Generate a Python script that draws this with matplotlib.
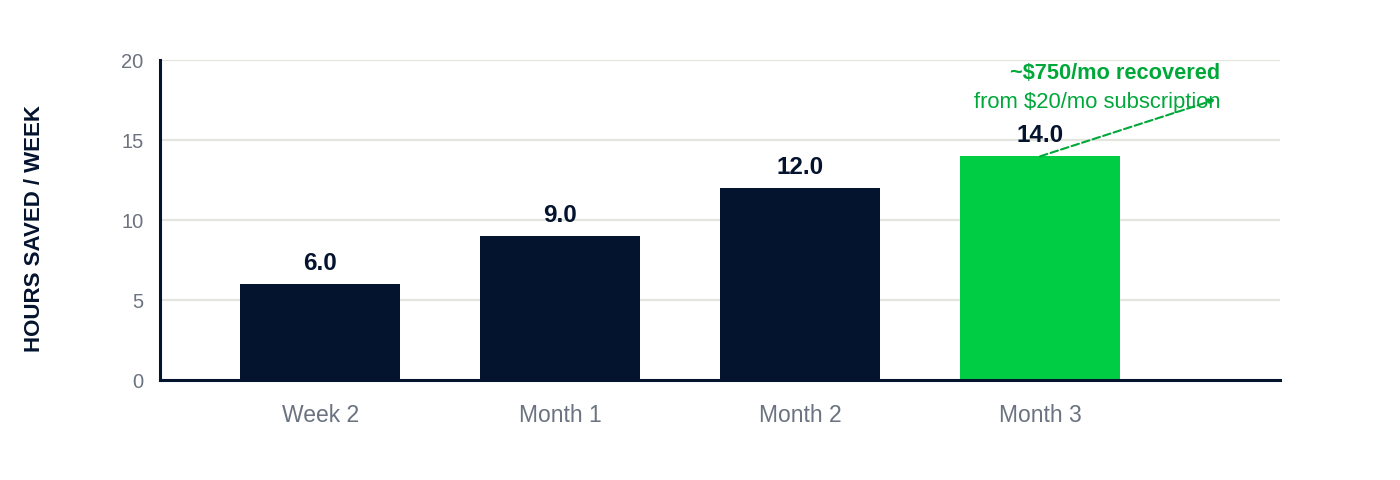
import matplotlib
matplotlib.use("Agg")
import matplotlib.pyplot as plt

# ── Data ──────────────────────────────────
periods = ["Week 2", "Month 1", "Month 2", "Month 3"]
hours_saved = [6.0, 9.0, 12.0, 14.0]
y_ticks = [0, 5, 10, 15, 20]
note_title = "~$750/mo recovered"
note_sub = "from $20/mo subscription"

# ── Colors ────────────────────────────────
NAVY = "#04132e"
GREEN = "#00cc44"
NOTE_GREEN = "#00a83a"
GRID = "#e4e4de"
TICK = "#6b7280"

plt.rcParams["font.family"] = ["Liberation Sans", "DejaVu Sans"]

fig = plt.figure(figsize=(14, 4.8), dpi=100, facecolor="white")
ax = fig.add_axes([0.1143, 0.2083, 0.8, 0.6667])

colors = [NAVY] * (len(periods) - 1) + [GREEN]
x = list(range(len(periods)))
bars = ax.bar(x, hours_saved, width=0.667, color=colors, zorder=3)

for xi, v in zip(x, hours_saved):
    ax.annotate(f"{v:.1f}", xy=(xi, v), xytext=(0, 6.5), textcoords="offset points",
                ha="center", va="bottom", fontsize=17.5, fontweight="bold", color=NAVY)

ax.set_xlim(-0.667, 4.0)
ax.set_ylim(0, 20.03)
ax.set_xticks(x)
ax.set_xticklabels(periods)
ax.set_yticks(y_ticks)
ax.tick_params(axis="x", length=0, pad=17, labelsize=16.5, labelcolor=TICK)
ax.tick_params(axis="y", length=0, pad=12, labelsize=14.5, labelcolor=TICK)

ax.grid(axis="y", color=GRID, linewidth=1.6, zorder=0)
for s in ["top", "right"]:
    ax.spines[s].set_visible(False)
for s in ["left", "bottom"]:
    ax.spines[s].set_color(NAVY)
    ax.spines[s].set_linewidth(2.2)
    ax.spines[s].set_zorder(4)

fig.text(0.0243, 0.523, "HOURS SAVED / WEEK", rotation=90, ha="center", va="center",
         fontsize=16, fontweight="bold", color=NAVY)

# annotation for the last bar
ax.text(3.75, 19.2, note_title, ha="right", va="center", fontsize=15.7,
        fontweight="bold", color=NOTE_GREEN)
ax.text(3.75, 17.4, note_sub, ha="right", va="center", fontsize=15.8, color=NOTE_GREEN)
ax.annotate("", xy=(3.73, 17.55), xytext=(3, hours_saved[-1]),
            arrowprops=dict(arrowstyle="-|>", linestyle="--", color=NOTE_GREEN,
                            lw=1.5, mutation_scale=8, shrinkA=0, shrinkB=0))

fig.savefig("out.png", dpi=100, facecolor="white")
